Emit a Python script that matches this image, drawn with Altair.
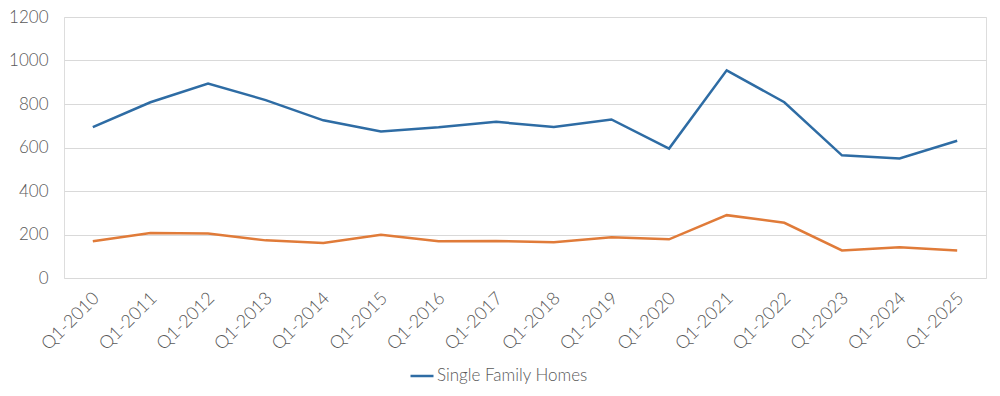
import altair as alt
import pandas as pd

quarters = ["Q1-2010", "Q1-2011", "Q1-2012", "Q1-2013", "Q1-2014", "Q1-2015",
            "Q1-2016", "Q1-2017", "Q1-2018", "Q1-2019", "Q1-2020", "Q1-2021",
            "Q1-2022", "Q1-2023", "Q1-2024", "Q1-2025"]
single_family = [694, 808, 894, 818, 725, 674, 693, 718, 694, 729, 595, 955,
                 808, 564, 550, 631]
condos = [169, 207, 205, 173, 161, 199, 169, 170, 164, 187, 178, 289,
          254, 127, 141, 127]
series_names = ["Single Family Homes", "Condos"]
series_colors = ["#2E6CA4", "#E07B39"]

rows = []
for q, a, b in zip(quarters, single_family, condos):
    rows.append({"quarter": q, "series": series_names[0], "value": a})
    rows.append({"quarter": q, "series": series_names[1], "value": b})
df = pd.DataFrame(rows)

chart = alt.Chart(df).mark_line(strokeWidth=2.5).encode(
    x=alt.X("quarter:N", sort=quarters,
            scale=alt.Scale(type="point", padding=0.5),
            axis=alt.Axis(title=None, labelAngle=-45, domain=False, ticks=False,
                          grid=False, labelPadding=11, labelOffset=-3,
                          labelFontSize=18, labelFontWeight=300,
                          labelColor="#595959", labelFont="Lato")),
    y=alt.Y("value:Q", scale=alt.Scale(domain=[0, 1200], nice=False),
            axis=alt.Axis(title=None, values=[0, 200, 400, 600, 800, 1000, 1200],
                          format="d",
                          domain=False, ticks=False, labelPadding=16,
                          labelFontSize=17, labelFontWeight=300,
                          labelColor="#595959", labelFont="Lato",
                          gridColor="#D9D9D9", gridWidth=1)),
    color=alt.Color("series:N",
                    scale=alt.Scale(domain=series_names, range=series_colors),
                    legend=alt.Legend(title=None, orient="none", legendX=345, legendY=346,
                                      values=[series_names[0]],
                                      symbolType="stroke", symbolSize=529,
                                      symbolStrokeWidth=2.5, labelFontSize=17,
                                      labelFontWeight=300,
                                      labelColor="#595959", labelFont="Lato",
                                      labelOffset=2)),
    detail="series:N",
).properties(
    width=922, height=261,
    autosize=alt.AutoSizeParams(type="none"),
    padding={"left": 56, "top": 9, "right": 6, "bottom": 110},
).configure_view(stroke=None).configure(background="white")

chart.save("out.html", embed_options={"renderer": "svg", "actions": False})
